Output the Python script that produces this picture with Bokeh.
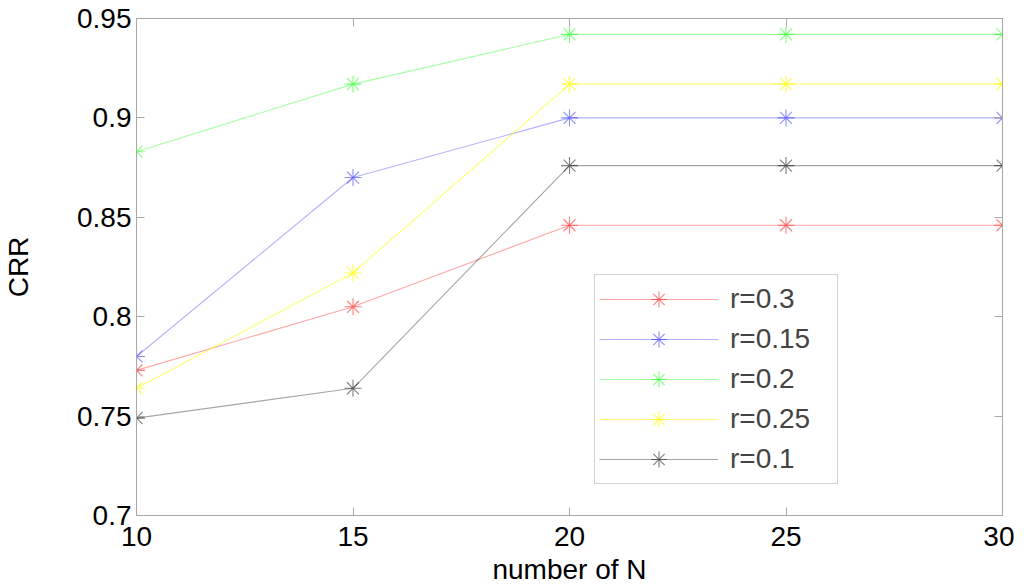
from bokeh.plotting import figure
from bokeh.models import LinearAxis, FixedTicker, Range1d, Legend
from bokeh.embed import file_html
from bokeh.resources import INLINE

# ---- data ----
N = [10, 15, 20, 25, 30]
series_names = ["r=0.3", "r=0.15", "r=0.2", "r=0.25", "r=0.1"]
r03 = [0.773, 0.805, 0.846, 0.846, 0.846]
r015 = [0.780, 0.870, 0.900, 0.900, 0.900]
r02 = [0.883, 0.917, 0.942, 0.942, 0.942]
r025 = [0.764, 0.822, 0.917, 0.917, 0.917]
r01 = [0.749, 0.764, 0.876, 0.876, 0.876]
x_ticks = [10, 15, 20, 25, 30]
y_ticks = [0.7, 0.75, 0.8, 0.85, 0.9, 0.95]
y_tick_labels = ["0.7", "0.75", "0.8", "0.85", "0.9", "0.95"]

colors = ["#ff0000", "#0000ff", "#00ff00", "#ffff00", "#000000"]
alphas = [0.35, 0.3, 0.35, 0.55, 0.35]
series = [r03, r015, r02, r025, r01]

FONT = "Liberation Sans"
FS = "28px"
AX_COL = "#a8a8a8"

p = figure(frame_width=866, frame_height=497,
           x_range=Range1d(10, 30), y_range=Range1d(0.7, 0.95),
           output_backend="svg", toolbar_location=None,
           min_border_left=135, min_border_right=12, min_border_top=18, min_border_bottom=10,
           background_fill_color="white", border_fill_color="white")
p.xgrid.visible = False
p.ygrid.visible = False
p.outline_line_color = AX_COL

def style_axis(ax, labels=True):
    ax.axis_line_color = AX_COL
    ax.major_tick_line_color = AX_COL
    ax.major_tick_in = 8
    ax.major_tick_out = 0
    ax.minor_tick_line_color = None
    ax.major_label_text_font = FONT
    ax.major_label_text_font_size = FS
    ax.major_label_text_color = "black" if labels else None
    ax.axis_label_text_font = FONT
    ax.axis_label_text_font_size = FS
    ax.axis_label_text_font_style = "normal"
    ax.axis_label_text_color = "black"

xax = p.xaxis[0]
xax.ticker = FixedTicker(ticks=x_ticks)
xax.axis_label = "number of N"
xax.major_label_standoff = 11
xax.axis_label_standoff = 5
style_axis(xax)

yax = p.yaxis[0]
yax.ticker = FixedTicker(ticks=y_ticks)
yax.major_label_overrides = {t: l for t, l in zip(y_ticks, y_tick_labels)}
yax.axis_label = "CRR"
yax.major_label_standoff = 5
yax.axis_label_standoff = 40
style_axis(yax)

top = LinearAxis(ticker=FixedTicker(ticks=x_ticks), major_label_standoff=0)
style_axis(top, labels=False)
p.add_layout(top, "above")
right = LinearAxis(ticker=FixedTicker(ticks=y_ticks), major_label_standoff=0)
style_axis(right, labels=False)
p.add_layout(right, "right")

items = []
for name, ys, c, a in zip(series_names, series, colors, alphas):
    l = p.line(N, ys, line_color=c, line_alpha=a, line_width=1.1)
    s = p.scatter(N, ys, marker="asterisk", size=17, line_color=c, line_alpha=a + 0.15, line_width=1.1)
    items.append((name, [l, s]))

legend = Legend(items=items, location=(458, 31),
                label_text_font=FONT, label_text_font_size=FS,
                glyph_width=119, glyph_height=40, label_height=40, label_width=103,
                label_standoff=12, padding=4, spacing=0, margin=0,
                border_line_color=AX_COL, border_line_width=1,
                background_fill_color="white", background_fill_alpha=1)
p.add_layout(legend, "center")

open("out.html", "w").write(file_html(p, INLINE))
